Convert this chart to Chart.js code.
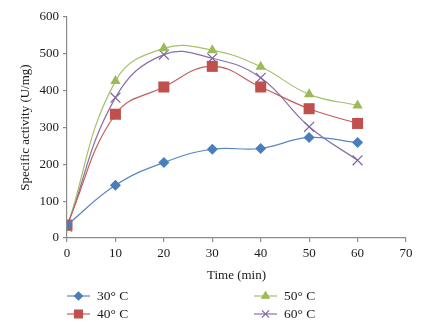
<!DOCTYPE html>
<html>
<head>
<meta charset="utf-8">
<script src="https://cdn.jsdelivr.net/npm/chart.js@4/dist/chart.umd.min.js"></script>
<style>
  html,body{margin:0;padding:0;background:#fff;}
  #wrap{position:relative;width:423px;height:329px;}
</style>
</head>
<body>
<div id="wrap"><canvas id="c" width="423" height="329"></canvas></div>
<script>
// specific activity vs time, four temperatures
const times = [0, 10, 20, 30, 40, 50, 60];
const labels = ['30°C', '40°C', '50°C', '60°C'];
const act30 = [35, 143, 205, 241, 243, 273, 259];
const act40 = [35, 336, 410, 466, 410, 351, 311];
const act50 = [28, 426, 515, 510, 465, 390, 360];
const act60 = [31, 381, 498, 488, 435, 302, 211];
const xTicks = [0, 10, 20, 30, 40, 50, 60, 70];
const yTicks = [0, 100, 200, 300, 400, 500, 600];

const FONT = '"Liberation Serif", "DejaVu Serif", serif';
const AXIS = '#8a8a8a';
const TEXT = '#1a1a1a';

const styles = [
  {color:'#4A7EBB', line:'#5b86c0', pointStyle:'rectRot', radius:5.5},
  {color:'#C0504D', line:'#c45e5b', pointStyle:'rect', radius:7.8},
  {color:'#9BBB59', line:'#a5c26a', pointStyle:'triangle', radius:6},
  {color:'#8064A2', line:'#8a70a9', pointStyle:'crossRot', radius:7}
];
const series = [act30, act40, act50, act60];

const datasets = series.map((vals, i) => ({
  label: labels[i],
  data: vals.map((v, j) => ({x: times[j], y: v})),
  borderColor: styles[i].line,
  backgroundColor: styles[i].color,
  pointBorderColor: styles[i].color,
  pointBackgroundColor: styles[i].color,
  pointStyle: styles[i].pointStyle,
  pointRadius: styles[i].radius,
  pointBorderWidth: i === 3 ? 1.2 : 0,
  borderWidth: 1.2,
  tension: 0.42,
  fill: false
}));

// two-column legend under the axis, like the original
const gridLegend = {
  id: 'gridLegend',
  afterDraw(chart){
    const ctx = chart.ctx;
    const cols = [67, 254], rows = [296, 314];
    chart.data.datasets.forEach((ds, i) => {
      const x = cols[Math.floor(i / 2)], y = rows[i % 2];
      ctx.save();
      ctx.strokeStyle = ds.borderColor; ctx.lineWidth = 1.2;
      ctx.beginPath(); ctx.moveTo(x, y); ctx.lineTo(x + 23, y); ctx.stroke();
      ctx.fillStyle = ds.pointBackgroundColor; ctx.strokeStyle = ds.pointBorderColor;
      Chart.helpers.drawPoint(ctx, {
        pointStyle: ds.pointStyle,
        radius: ds.pointRadius * 0.72,
        borderWidth: ds.pointBorderWidth || 0.01
      }, x + 11.5, y);
      ctx.fillStyle = TEXT;
      ctx.font = '13.5px ' + FONT;
      ctx.textBaseline = 'middle';
      ctx.fillText(ds.label.replace('°', '° '), x + 30, y + 0.5);
      ctx.restore();
    });
  }
};

new Chart(document.getElementById('c'), {
  type: 'line',
  data: {datasets},
  plugins: [gridLegend],
  options: {
    responsive: false,
    animation: false,
    layout: {padding: {top: 17, right: 17, bottom: 46, left: 14}},
    plugins: {legend: {display: false}, tooltip: {enabled: false}},
    scales: {
      x: {
        type: 'linear', min: 0, max: 70,
        afterBuildTicks: s => { s.ticks = xTicks.map(v => ({value: v})); },
        afterFit: s => { s.height = 45; },
        grid: {display: true, drawOnChartArea: false, drawTicks: true, tickLength: 4, color: AXIS, lineWidth: 1.2},
        border: {display: true, color: AXIS, width: 1.2},
        ticks: {color: TEXT, font: {family: FONT, size: 13}, padding: 4, maxRotation: 0},
        title: {display: true, text: 'Time (min)', color: TEXT, font: {family: FONT, size: 13}, padding: {top: 2, bottom: 0}}
      },
      y: {
        min: 0, max: 600,
        afterBuildTicks: s => { s.ticks = yTicks.map(v => ({value: v})); },
        afterFit: s => { s.width = 53; },
        grid: {display: true, drawOnChartArea: false, drawTicks: true, tickLength: 4, color: AXIS, lineWidth: 1.2},
        border: {display: true, color: AXIS, width: 1.2},
        ticks: {color: TEXT, font: {family: FONT, size: 13}, padding: 4},
        title: {display: true, text: 'Specific activity (U/mg)', color: TEXT, font: {family: FONT, size: 13}, padding: {top: 4, bottom: 0}}
      }
    }
  }
});
</script>
</body>
</html>
